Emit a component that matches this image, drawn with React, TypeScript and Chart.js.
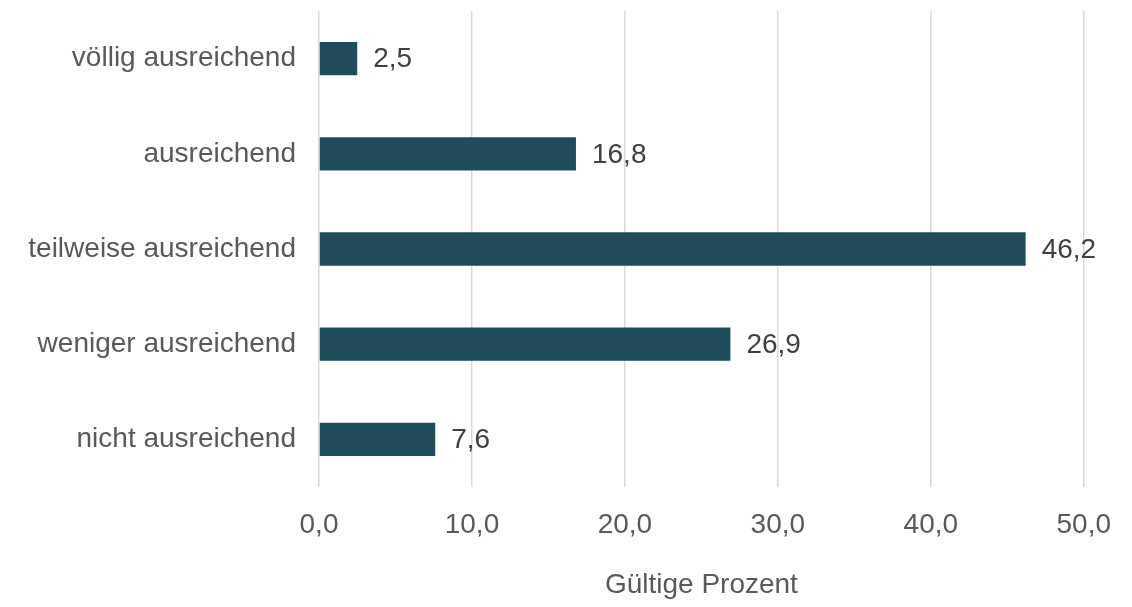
import React, { useEffect, useRef } from "react";
import { Chart, registerables } from "chart.js";

Chart.register(...registerables);

const categories = [
  "völlig ausreichend",
  "ausreichend",
  "teilweise ausreichend",
  "weniger ausreichend",
  "nicht ausreichend",
];
const percentages = [2.5, 16.8, 46.2, 26.9, 7.6];
const axisTitle = "Gültige Prozent";

const FONT = "'Liberation Sans', Arial, sans-serif";
const BAR_COLOR = "#1f4c5b";
const fmt = (v: number) => v.toFixed(1).replace(".", ",");

// Writes each bar's value just past its end.
const valueLabels = {
  id: "valueLabels",
  afterDatasetsDraw(chart: any) {
    const { ctx } = chart;
    const meta = chart.getDatasetMeta(0);
    ctx.save();
    ctx.font = `28px ${FONT}`;
    ctx.fillStyle = "#404040";
    ctx.textAlign = "left";
    ctx.textBaseline = "middle";
    meta.data.forEach((bar: any, i: number) => {
      ctx.fillText(fmt(percentages[i]), bar.x + 16, bar.y + 1);
    });
    ctx.restore();
  },
};

export default function App() {
  const canvasRef = useRef<HTMLCanvasElement | null>(null);

  useEffect(() => {
    if (!canvasRef.current) return;
    const chart = new Chart(canvasRef.current, {
      type: "bar",
      data: {
        labels: categories,
        datasets: [
          {
            data: percentages,
            backgroundColor: BAR_COLOR,
            borderWidth: 0,
            categoryPercentage: 1,
            barPercentage: 0.35,
          },
        ],
      },
      options: {
        indexAxis: "y",
        animation: false,
        responsive: false,
        maintainAspectRatio: false,
        layout: { padding: { top: 11, right: 48, bottom: 0, left: 0 } },
        plugins: {
          legend: { display: false },
          tooltip: { enabled: false },
        },
        scales: {
          x: {
            min: 0,
            max: 50,
            ticks: {
              stepSize: 10,
              padding: 21,
              color: "#595959",
              font: { family: FONT, size: 28 },
              callback: (v: any) => fmt(Number(v)),
            },
            grid: { color: "#d9d9d9", lineWidth: 1.5, drawTicks: false },
            border: { display: false },
            title: {
              display: true,
              text: axisTitle,
              color: "#595959",
              font: { family: FONT, size: 28 },
              padding: { top: 0, bottom: 5 },
            },
            afterFit: (scale: any) => {
              scale.height = 120;
            },
          },
          y: {
            ticks: {
              padding: 23,
              color: "#595959",
              font: { family: FONT, size: 28 },
            },
            grid: { display: false, drawTicks: false },
            border: { display: false },
            afterFit: (scale: any) => {
              scale.width = 319;
              scale.paddingTop = 0;
              scale.paddingBottom = 0;
            },
          },
        },
      },
      plugins: [valueLabels],
    });
    return () => chart.destroy();
  }, []);

  return (
    <div style={{ position: "fixed", left: 0, top: 0, width: 1132, height: 607, background: "#fff" }}>
      <canvas ref={canvasRef} width={1132} height={607} />
    </div>
  );
}
